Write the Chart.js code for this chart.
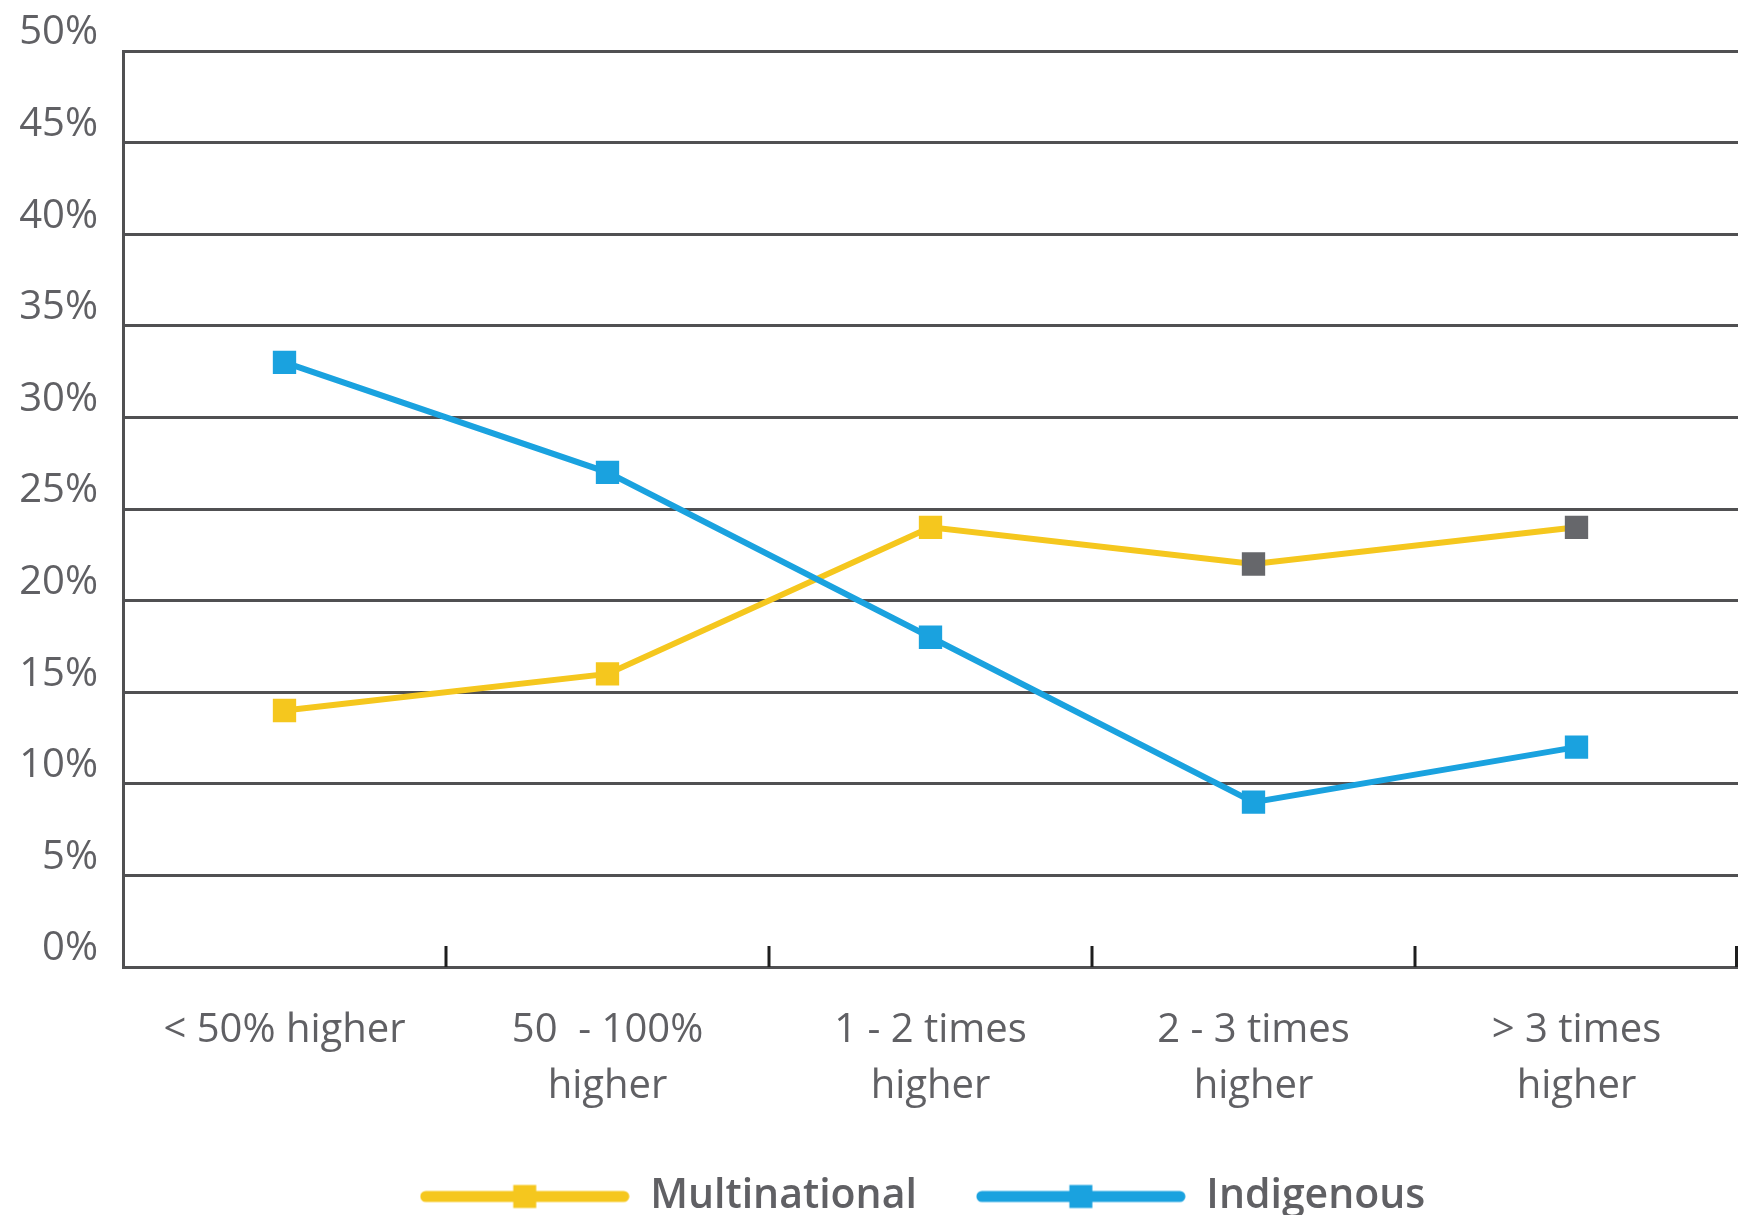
<!DOCTYPE html>
<html>
<head>
<meta charset="utf-8">
<script src="https://cdn.jsdelivr.net/npm/chart.js@4/dist/chart.umd.min.js"></script>
<style>
  html, body { margin: 0; padding: 0; background: #ffffff; overflow: hidden; }
  #wrap { width: 1738px; height: 1215px; position: relative; }
</style>
</head>
<body>
<div id="wrap"><canvas id="chart"></canvas></div>
<script>
// Price premium bands on the x axis
const categories = [
  ['< 50% higher'],
  ['50  - 100%', 'higher'],
  ['1 - 2 times', 'higher'],
  ['2 - 3 times', 'higher'],
  ['> 3 times', 'higher']
];

// Share of respondents (%) per band
const multinational = [14, 16, 24, 22, 24];
const indigenous = [33, 27, 18, 9, 12];

// Y axis range and step (%)
const yMin = 0;
const yMax = 50;
const yStep = 5;

const seriesNames = ['Multinational', 'Indigenous'];

const YELLOW = '#F5C71E';
const BLUE = '#1AA2DF';
const GREY_MARK = '#66676B';
const GRID = '#505052';
const TEXT = '#606064';
const FONT = "'Open Sans', 'DejaVu Sans', sans-serif";

const multinationalMarkers = [YELLOW, YELLOW, YELLOW, GREY_MARK, GREY_MARK];

// Legend swatch: thick rounded line with a square marker in the middle
function legendSwatch(color) {
  const c = document.createElement('canvas');
  c.width = 210;
  c.height = 26;
  const g = c.getContext('2d');
  g.strokeStyle = color;
  g.lineWidth = 11;
  g.lineCap = 'round';
  g.beginPath();
  g.moveTo(6, 13);
  g.lineTo(204, 13);
  g.stroke();
  g.fillStyle = color;
  g.fillRect(105 - 11.5, 13 - 11.5, 23, 23);
  return c;
}
const swatches = [legendSwatch(YELLOW), legendSwatch(BLUE)];

// Short upward ticks on the x axis at category boundaries
const boundaryTicks = {
  id: 'boundaryTicks',
  afterDatasetsDraw(chart) {
    const xs = chart.scales.x;
    const bottom = chart.chartArea.bottom;
    const ctx = chart.ctx;
    ctx.save();
    ctx.strokeStyle = '#1e1e1e';
    ctx.lineWidth = 3;
    for (let i = 1; i <= categories.length; i++) {
      let x = xs.getPixelForValue(i - 0.5);
      if (i === categories.length) x -= 1.5;
      ctx.beginPath();
      ctx.moveTo(x, bottom);
      ctx.lineTo(x, bottom - 21);
      ctx.stroke();
    }
    ctx.restore();
  }
};

// Nudge the legend row slightly left of the plot-area centre
const legendShift = {
  id: 'legendShift',
  afterLayout(chart) {
    if (chart.legend) {
      chart.legend.left -= 8;
      chart.legend.right -= 8;
    }
  }
};

new Chart(document.getElementById('chart'), {
  type: 'line',
  data: {
    labels: categories,
    datasets: [
      {
        label: seriesNames[0],
        data: multinational,
        borderColor: YELLOW,
        backgroundColor: YELLOW,
        borderWidth: 6,
        tension: 0,
        pointStyle: 'rect',
        pointRadius: 16.5,
        pointHoverRadius: 16.5,
        pointBorderWidth: 0,
        pointBackgroundColor: multinationalMarkers,
        pointBorderColor: multinationalMarkers,
        order: 1
      },
      {
        label: seriesNames[1],
        data: indigenous,
        borderColor: BLUE,
        backgroundColor: BLUE,
        borderWidth: 6,
        tension: 0,
        pointStyle: 'rect',
        pointRadius: 16.5,
        pointHoverRadius: 16.5,
        pointBorderWidth: 0,
        pointBackgroundColor: BLUE,
        pointBorderColor: BLUE,
        order: 0
      }
    ]
  },
  options: {
    responsive: true,
    maintainAspectRatio: false,
    animation: false,
    layout: { autoPadding: false, padding: { top: 51, left: 0, right: 0, bottom: -12 } },
    scales: {
      x: {
        type: 'category',
        offset: true,
        grid: { display: false, drawTicks: false },
        border: { display: true, color: GRID, width: 3 },
        ticks: {
          color: TEXT,
          font: { family: FONT, size: 40, lineHeight: 1.4 },
          padding: 36,
          maxRotation: 0,
          autoSkip: false
        },
        afterFit(scale) {
          scale.height = 150;
          scale.paddingLeft = 0;
          scale.paddingRight = 0;
        }
      },
      y: {
        min: yMin,
        max: yMax,
        grid: { color: GRID, lineWidth: 3, drawTicks: false },
        border: { display: true, color: GRID, width: 3 },
        ticks: {
          stepSize: yStep,
          color: TEXT,
          font: { family: FONT, size: 40 },
          padding: 25,
          labelOffset: -18,
          callback: (v) => v + '%'
        },
        afterFit(scale) { scale.width = 123; }
      }
    },
    plugins: {
      tooltip: { enabled: false },
      legend: {
        display: true,
        position: 'bottom',
        fullSize: false,
        labels: {
          usePointStyle: true,
          pointStyleWidth: 210,
          boxHeight: 41,
          padding: 59,
          color: TEXT,
          font: { family: FONT, size: 41, weight: '600' },
          generateLabels(chart) {
            return seriesNames.map((name, i) => ({
              text: name,
              pointStyle: swatches[i],
              fillStyle: i === 0 ? YELLOW : BLUE,
              strokeStyle: i === 0 ? YELLOW : BLUE,
              lineWidth: 0,
              fontColor: TEXT,
              hidden: false,
              datasetIndex: i
            }));
          }
        }
      }
    }
  },
  plugins: [boundaryTicks, legendShift]
});
</script>
</body>
</html>
